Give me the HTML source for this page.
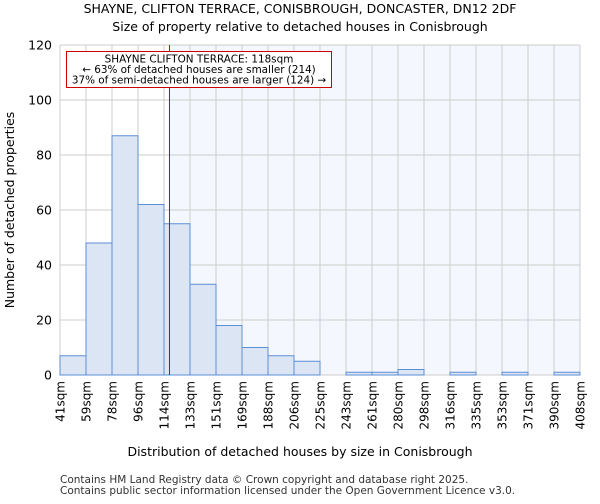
<!DOCTYPE html>
<html><head><meta charset="utf-8"><style>
body{margin:0;background:#fff;font-family:"DejaVu Sans","Liberation Sans",sans-serif;}
</style></head><body>
<svg width="600" height="500" viewBox="0 0 600 500" xmlns="http://www.w3.org/2000/svg" font-family="DejaVu Sans, Liberation Sans, sans-serif">
<text x="300" y="13" text-anchor="middle" font-size="12.5">SHAYNE, CLIFTON TERRACE, CONISBROUGH, DONCASTER, DN12 2DF</text>
<text x="300" y="31" text-anchor="middle" font-size="12.5">Size of property relative to detached houses in Conisbrough</text>
<g id="plot"></g>
<text x="300" y="456" text-anchor="middle" font-size="12.5">Distribution of detached houses by size in Conisbrough</text>
<text transform="translate(14,210) rotate(-90)" text-anchor="middle" font-size="12.5">Number of detached properties</text>
<text x="60" y="483" font-size="10.5" fill="#333">Contains HM Land Registry data © Crown copyright and database right 2025.</text>
<text x="60" y="494" font-size="10.5" fill="#333">Contains public sector information licensed under the Open Government Licence v3.0.</text>
</svg>
<script>
const categories=["41sqm","59sqm","78sqm","96sqm","114sqm","133sqm","151sqm","169sqm","188sqm","206sqm","225sqm","243sqm","261sqm","280sqm","298sqm","316sqm","335sqm","353sqm","371sqm","390sqm","408sqm"];
const binEdges=[41,59,78,96,114,133,151,169,188,206,225,243,261,280,298,316,335,353,371,390,408];
const counts=[7,48,87,62,55,33,18,10,7,5,0,1,1,2,0,1,0,1,0,1];
const yTicks=[0,20,40,60,80,100,120];
const subjectSize=118;
const ns="http://www.w3.org/2000/svg";
const L=60,R=580,T=45,B=375,yMax=120;
const bw=(R-L)/counts.length;
const X=i=>L+i*bw;
const Y=v=>B-(B-T)*v/yMax;
function xOfSize(s){for(let i=0;i<binEdges.length-1;i++){if(s>=binEdges[i]&&s<=binEdges[i+1])return X(i)+bw*(s-binEdges[i])/(binEdges[i+1]-binEdges[i]);}return R;}
const g=document.getElementById('plot');
function mk(t,a){const e=document.createElementNS(ns,t);for(const k in a)e.setAttribute(k,a[k]);g.appendChild(e);return e;}
const sx=xOfSize(subjectSize);
let bg=mk('rect',{x:sx,y:T,width:R-sx,height:B-T,fill:'#f4f7fd'});


for(let i=0;i<=counts.length;i++){let l=mk('line',{x1:X(i),x2:X(i),y1:T,y2:B,stroke:'#cccccc'});

}
yTicks.forEach(v=>{let l=mk('line',{x1:L,x2:R,y1:Y(v),y2:Y(v),stroke:'#cccccc'});


let t=mk('text',{x:L-8,y:Y(v)+4.5,'text-anchor':'end','font-size':'12.5'});t.textContent=v;

});
counts.forEach((c,i)=>{if(c<=0)return;let r=mk('rect',{x:X(i),y:Y(c),width:bw,height:B-Y(c),fill:'#dce5f4',stroke:'#5b8fd6','stroke-width':1});

});
categories.forEach((c,i)=>{let t=mk('text',{transform:`translate(${X(i)+4.5},${B+6}) rotate(-90)`,'text-anchor':'end','font-size':'12'});t.textContent=c;

});
let ln=mk('line',{x1:sx,x2:sx,y1:T,y2:B,stroke:'#cc0000','stroke-width':1});


let box=mk('rect',{x:66.5,y:51.5,width:265,height:36,fill:'#fff',stroke:'#cc0000','stroke-width':1});


["SHAYNE CLIFTON TERRACE: 118sqm","← 63% of detached houses are smaller (214)","37% of semi-detached houses are larger (124) →"].forEach((s,k)=>{let t=mk('text',{x:199,y:62.5+k*10.5,'text-anchor':'middle','font-size':'10.4'});t.textContent=s;

});
</script>
</body></html>
